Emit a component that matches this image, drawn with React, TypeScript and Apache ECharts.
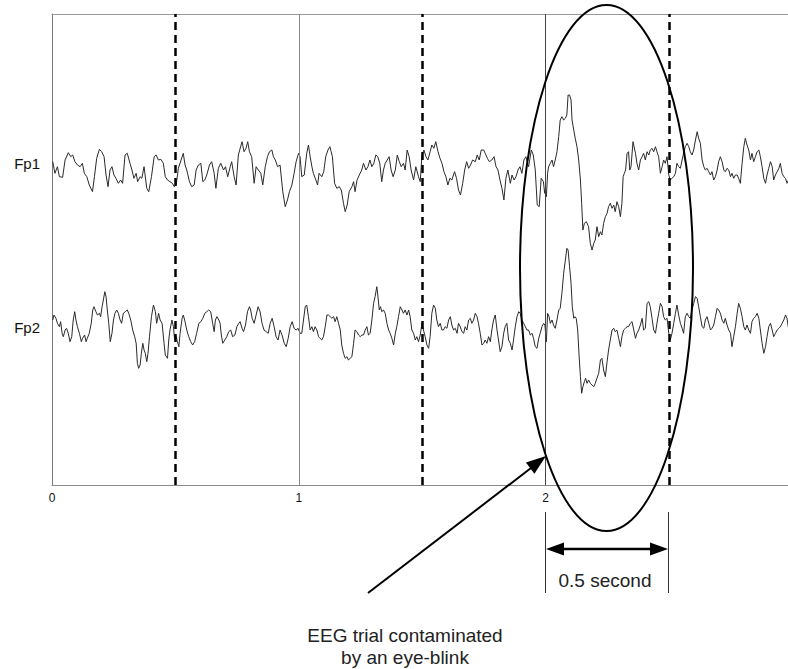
import React, { useEffect, useRef } from "react";
import * as echarts from "echarts";

// ---- data (time in seconds, amplitude in µV-like units relative to channel baseline) ----
const CHANNELS = ["Fp1", "Fp2"];
const CHANNEL_OFFSETS = [322, 158];
const X_TICKS = [0, 1, 2];
const GRID_TIMES = [1, 2];
const EPOCH_MARKS = [0.5, 1.5, 2.5];
const X_MAX = 2.982;
const Y_MAX = 471;

const FP1: number[][] = [
  [0.003,1.3],[0.012,-10.3],[0.022,-3.7],[0.030,-13.7],[0.043,-14.3],[0.053,3],[0.066,10.3],[0.076,6.3],[0.084,8],[0.093,1.3],
  [0.103,-2],[0.114,-3.7],[0.123,-0.3],[0.131,-10.3],[0.141,-13.7],[0.151,-22],[0.164,-28.7],[0.172,-13.7],[0.181,4.7],[0.192,13.7],
  [0.201,11.3],[0.211,6.3],[0.219,-12],[0.227,-23.7],[0.235,-7],[0.243,-3.7],[0.251,-12],[0.259,-15.3],[0.269,-20.3],[0.278,-17],
  [0.286,-20.3],[0.296,8],[0.305,9.7],[0.316,-0.3],[0.324,-7],[0.332,-15.3],[0.341,-10.3],[0.347,-18.7],[0.357,-13.7],[0.364,-15.3],
  [0.373,-3.7],[0.384,-25.3],[0.392,-28.7],[0.403,-13.7],[0.414,6.3],[0.422,8],[0.431,3],[0.441,3.7],[0.451,-0.3],[0.459,-13.7],
  [0.468,-17],[0.478,-18.7],[0.488,-20.3],[0.495,-23.7],[0.503,-22],[0.512,-5.3],[0.523,3],[0.532,9.7],[0.539,-2],[0.546,-7],
  [0.557,-18.7],[0.566,-23.7],[0.576,-22],[0.584,-7],[0.593,-2],[0.603,-0.3],[0.611,-18.7],[0.619,-17],[0.627,-12],[0.638,-2],
  [0.647,1.3],[0.657,-10.3],[0.664,-25.3],[0.674,-5.3],[0.684,-0.3],[0.695,-7],[0.703,-3.7],[0.712,-13.7],[0.722,-3.7],[0.728,1.3],
  [0.738,-13.7],[0.746,-22],[0.755,8],[0.765,17],[0.770,21.3],[0.778,11.3],[0.786,14.7],[0.793,21.3],[0.800,11.3],[0.809,6.3],
  [0.819,-20.3],[0.827,-3.7],[0.836,-7],[0.846,-10.3],[0.854,-22],[0.864,-3.7],[0.873,6.3],[0.881,11.3],[0.891,13],[0.897,6.3],
  [0.905,3],[0.914,-3.7],[0.924,-2],[0.935,-28.7],[0.945,-43.7],[0.954,-37],[0.962,-28.7],[0.972,-22],[0.981,-10.3],[0.989,1.3],
  [0.999,9.7],[1.005,6.3],[1.012,-13.7],[1.022,-12],[1.032,9.7],[1.039,18],[1.046,6.3],[1.053,-3.7],[1.059,-10.3],[1.069,-17],
  [1.076,-22],[1.082,-10.3],[1.093,-13.7],[1.101,-8.7],[1.109,6.3],[1.118,13],[1.126,16.3],[1.131,11.3],[1.136,6.3],[1.145,-20.3],
  [1.154,-25.3],[1.164,-23.7],[1.172,-27],[1.181,-40.3],[1.188,-48.7],[1.196,-42],[1.204,-28.7],[1.215,-23.7],[1.222,-18.7],[1.228,-28.7],
  [1.236,-17],[1.245,-12],[1.255,-7],[1.262,-0.3],[1.272,-7],[1.280,-3.7],[1.288,3],[1.296,-3.7],[1.304,-0.3],[1.312,8],
  [1.320,6.3],[1.328,-0.3],[1.336,-18.7],[1.343,-7],[1.350,-0.3],[1.358,3],[1.366,6.3],[1.374,-7],[1.382,-13.7],[1.391,-7],
  [1.399,8],[1.407,1.3],[1.415,-3.7],[1.424,-0.3],[1.431,-7],[1.439,13],[1.447,6.3],[1.455,-7],[1.465,-17],[1.474,-3.7],
  [1.485,-13.7],[1.492,-18.7],[1.499,8],[1.507,13],[1.515,6.3],[1.523,3],[1.532,11.3],[1.539,18],[1.547,14.7],[1.555,21.3],
  [1.564,11.3],[1.572,4.7],[1.580,-0.3],[1.588,-8.7],[1.596,-13.7],[1.604,-22],[1.612,-15.3],[1.620,-17],[1.631,-8.7],[1.639,-15.3],
  [1.647,-27],[1.655,-32],[1.664,-20.3],[1.672,-7],[1.680,1.3],[1.688,-5.3],[1.696,-2],[1.704,3],[1.715,1.3],[1.723,8],
  [1.731,3],[1.739,13],[1.749,13],[1.755,9.7],[1.764,4.7],[1.772,1.3],[1.782,3],[1.791,6.3],[1.799,-3.7],[1.807,-7],
  [1.815,-17],[1.823,-25.3],[1.831,-37],[1.839,-15.3],[1.847,-7],[1.857,-20.3],[1.864,-12],[1.872,-17],[1.880,-13.7],[1.888,-7],
  [1.896,-3.7],[1.904,-10.3],[1.912,3],[1.920,6.3],[1.931,-3.7],[1.942,13],[1.950,8],[1.958,-7],[1.966,-42],[1.974,-43.7],
  [1.982,-15.3],[1.991,-18.7],[1.996,-30.3],[1.999,-25.3],[2.003,-33.7],[2.008,-10.3],[2.012,-3.7],[2.019,-0.3],[2.026,3],[2.032,-3.7],
  [2.039,3],[2.046,11.3],[2.053,26.3],[2.059,43],[2.066,46.3],[2.073,43],[2.080,44.7],[2.086,48],[2.091,68],[2.097,68],
  [2.103,63],[2.107,43],[2.114,33],[2.120,24.7],[2.127,16.3],[2.134,3],[2.141,-17],[2.146,-40.3],[2.151,-67],[2.157,-60.3],
  [2.165,-58.7],[2.174,-63.7],[2.181,-80.3],[2.188,-87],[2.195,-80.3],[2.201,-77],[2.208,-63.7],[2.215,-73.7],[2.222,-68.7],[2.228,-72],
  [2.235,-60.3],[2.242,-53.7],[2.249,-50.3],[2.255,-43.7],[2.262,-40.3],[2.269,-45.3],[2.276,-42],[2.282,-48.7],[2.289,-38.7],[2.296,-43.7],
  [2.303,-53.7],[2.309,-40.3],[2.314,-13.7],[2.319,-10.3],[2.324,-7],[2.330,9.7],[2.336,11.3],[2.341,-7],[2.346,-3.7],[2.354,21.3],
  [2.364,9.7],[2.370,-0.3],[2.377,-7],[2.384,3],[2.391,6.3],[2.397,9.7],[2.404,3],[2.411,11.3],[2.418,8],[2.424,13],
  [2.431,14.7],[2.438,11.3],[2.445,16.3],[2.451,11.3],[2.458,6.3],[2.465,-10.3],[2.472,-3.7],[2.478,3],[2.485,-0.3],[2.492,6.3],
  [2.499,-12],[2.505,-17],[2.512,-15.3],[2.519,-13.7],[2.526,-10.3],[2.532,-0.3],[2.539,-3.7],[2.546,-5.3],[2.553,3],[2.559,9.7],
  [2.566,16.3],[2.573,19.7],[2.580,16.3],[2.586,11.3],[2.593,8],[2.600,13],[2.607,23],[2.614,31.3],[2.620,24.7],[2.627,19.7],
  [2.634,3],[2.641,-3.7],[2.647,-7],[2.654,-5.3],[2.661,-8.7],[2.668,-12],[2.674,-8.7],[2.681,-17],[2.688,-13.7],[2.695,-7],
  [2.701,1.3],[2.708,6.3],[2.715,1.3],[2.722,-7],[2.728,-8.7],[2.735,-5.3],[2.742,-7],[2.749,-13.7],[2.755,-10.3],[2.762,-15.3],
  [2.769,-12],[2.776,-12],[2.782,-15.3],[2.789,-20.3],[2.796,-0.3],[2.803,16.3],[2.809,24.7],[2.816,18],[2.823,13],[2.830,3],
  [2.836,9.7],[2.843,1.3],[2.850,6.3],[2.857,11.3],[2.864,13],[2.870,6.3],[2.877,-3.7],[2.884,-15.3],[2.891,-20.3],[2.897,-12],
  [2.904,-5.3],[2.911,1.3],[2.918,-3.7],[2.924,-17],[2.931,-12],[2.938,-8.7],[2.945,-5.3],[2.951,-0.3],[2.958,-10.3],[2.965,-13.7],
  [2.972,-15.3],[2.978,-20.3],[2.984,-17],
];

const FP2: number[][] = [
  [0.003,7],[0.008,12],[0.016,8.7],[0.022,3.7],[0.030,0.3],[0.035,5.3],[0.041,-6.3],[0.046,-9.7],[0.053,-3],[0.059,-1.3],
  [0.066,-6.3],[0.073,-14.7],[0.080,-9.7],[0.086,7],[0.092,15.3],[0.097,7],[0.103,0.3],[0.111,-6.3],[0.119,-14.7],[0.124,-11.3],
  [0.132,-8],[0.138,-14.7],[0.143,-11.3],[0.151,-6.3],[0.159,3.7],[0.165,17],[0.170,20.3],[0.178,15.3],[0.184,12],[0.192,13.7],
  [0.197,10.3],[0.203,20.3],[0.208,27],[0.214,35.3],[0.219,30.3],[0.224,17],[0.230,3.7],[0.236,-14.7],[0.243,-6.3],[0.249,7],
  [0.255,13.7],[0.262,17],[0.269,13.7],[0.276,7],[0.282,3.7],[0.289,13.7],[0.297,15.3],[0.305,17],[0.311,13.7],[0.319,7],
  [0.327,-3],[0.335,-9.7],[0.341,-16.3],[0.346,-36.3],[0.351,-41.3],[0.357,-38],[0.362,-26.3],[0.368,-16.3],[0.373,-23],[0.378,-26.3],
  [0.384,-34.7],[0.389,-26.3],[0.395,-9.7],[0.403,10.3],[0.411,22],[0.419,15.3],[0.424,3.7],[0.432,13.7],[0.438,7],[0.446,3.7],
  [0.454,-16.3],[0.459,-28],[0.468,-31.3],[0.473,-13],[0.478,-3],[0.486,7],[0.492,0.3],[0.497,-13],[0.503,-9.7],[0.508,-14.7],
  [0.514,-19.7],[0.519,-6.3],[0.527,8.7],[0.532,12],[0.539,5.3],[0.546,-3],[0.554,-9.7],[0.562,-14.7],[0.570,-18],[0.578,-14.7],
  [0.586,-6.3],[0.595,3.7],[0.603,5.3],[0.611,8.7],[0.619,13.7],[0.627,15.3],[0.635,17],[0.643,15.3],[0.651,3.7],[0.657,-4.7],
  [0.662,7],[0.668,10.3],[0.676,7],[0.681,3.7],[0.686,-8],[0.692,-16.3],[0.700,-13],[0.708,-9.7],[0.716,-4.7],[0.724,-3],
  [0.732,-9.7],[0.741,-8],[0.749,0.3],[0.757,3.7],[0.762,5.3],[0.770,-1.3],[0.776,-4.7],[0.784,2],[0.792,15.3],[0.800,20.3],
  [0.805,17],[0.811,8.7],[0.819,3.7],[0.827,12],[0.835,20.3],[0.843,15.3],[0.851,3.7],[0.859,-3],[0.868,-4.7],[0.876,-6.3],
  [0.884,3.7],[0.892,8.7],[0.900,0.3],[0.908,-9.7],[0.916,-13],[0.924,-3],[0.932,-8],[0.941,-16.3],[0.949,-19.7],[0.957,-11.3],
  [0.965,0.3],[0.973,5.3],[0.981,-1.3],[0.989,-3],[0.997,-1.3],[1.005,-6.3],[1.012,-6.3],[1.019,7],[1.026,20.3],[1.032,22],
  [1.039,10.3],[1.046,-3],[1.053,0.3],[1.059,-4.7],[1.066,0.3],[1.073,-3],[1.080,-9.7],[1.086,-11.3],[1.093,-13],[1.100,-9.7],
  [1.107,0.3],[1.114,12],[1.120,12],[1.127,10.3],[1.134,8.7],[1.141,10.3],[1.147,5.3],[1.154,10.3],[1.161,3.7],[1.168,-3],
  [1.174,-18],[1.181,-26.3],[1.188,-31.3],[1.195,-29.7],[1.201,-33],[1.208,-31.3],[1.215,-29.7],[1.222,-16.3],[1.228,-3],[1.235,-4.7],
  [1.242,-8],[1.249,-9.7],[1.255,-8],[1.262,-8],[1.269,-3],[1.276,0.3],[1.282,-8],[1.289,-6.3],[1.296,7],[1.303,23.7],
  [1.309,30.3],[1.316,40.3],[1.320,32],[1.326,17],[1.331,20.3],[1.336,15.3],[1.343,17],[1.350,13.7],[1.357,3.7],[1.364,-3],
  [1.370,-6.3],[1.377,-11.3],[1.384,-18],[1.391,-6.3],[1.397,0.3],[1.404,10.3],[1.411,20.3],[1.418,17],[1.424,13.7],[1.431,17],
  [1.438,12],[1.445,17],[1.451,10.3],[1.458,-3],[1.465,-6.3],[1.472,-13],[1.478,-9.7],[1.485,-14.7],[1.492,-8],[1.499,3.7],
  [1.505,-3],[1.512,-9.7],[1.519,-18],[1.526,-21.3],[1.532,-9.7],[1.539,13.7],[1.546,22],[1.553,18.7],[1.559,7],[1.566,0.3],
  [1.573,3.7],[1.580,-3],[1.586,-3],[1.593,0.3],[1.600,-1.3],[1.607,7],[1.614,10.3],[1.620,2],[1.627,-3],[1.634,-1.3],
  [1.641,-6.3],[1.647,3.7],[1.654,0.3],[1.661,-4.7],[1.668,-6.3],[1.674,0.3],[1.681,-3],[1.688,7],[1.695,8.7],[1.701,3.7],
  [1.708,7],[1.715,13.7],[1.722,10.3],[1.728,3.7],[1.735,-6.3],[1.742,-18],[1.749,-16.3],[1.755,-13],[1.762,-16.3],[1.769,-9.7],
  [1.776,-14.7],[1.782,-3],[1.789,7],[1.796,12],[1.803,-3],[1.809,-13],[1.816,-24.7],[1.823,-19.7],[1.830,-6.3],[1.836,0.3],
  [1.843,3.7],[1.850,-13],[1.857,-16.3],[1.864,-23],[1.870,-13],[1.877,0.3],[1.884,10.3],[1.891,15.3],[1.897,13.7],[1.904,7],
  [1.911,3.7],[1.918,0.3],[1.924,-3],[1.931,-3],[1.938,-8],[1.945,-6.3],[1.951,-11.3],[1.958,-19.7],[1.965,-21.3],[1.972,-11.3],
  [1.978,-6.3],[1.985,0.3],[1.992,3.7],[1.997,2],[2.003,-14.7],[2.008,13.7],[2.014,10.3],[2.019,3.7],[2.026,7],[2.032,2],
  [2.039,-1.3],[2.046,7],[2.053,17],[2.059,18.7],[2.066,33.7],[2.073,53.7],[2.080,67],[2.086,78.7],[2.091,77],[2.097,60.3],
  [2.103,43.7],[2.108,20.3],[2.114,8.7],[2.119,10.3],[2.124,8.7],[2.130,-3],[2.135,-26.3],[2.141,-49.7],[2.146,-66.3],[2.151,-59.7],
  [2.157,-54.7],[2.162,-51.3],[2.168,-56.3],[2.174,-53],[2.181,-56.3],[2.188,-58],[2.195,-59.7],[2.201,-56.3],[2.208,-51.3],[2.215,-46.3],
  [2.222,-33],[2.228,-31.3],[2.235,-43],[2.242,-49.7],[2.249,-34.7],[2.255,-23],[2.262,-13],[2.269,-3],[2.276,-1.3],[2.282,-4.7],
  [2.289,-3],[2.296,-11.3],[2.303,-19.7],[2.309,-9.7],[2.316,-3],[2.323,-1.3],[2.330,0.3],[2.336,0.3],[2.343,3.7],[2.350,5.3],
  [2.357,-3],[2.364,-11.3],[2.370,-6.3],[2.377,-3],[2.384,2],[2.391,8.7],[2.397,-3],[2.404,-1.3],[2.411,23.7],[2.418,25.3],
  [2.424,20.3],[2.431,8.7],[2.438,-3],[2.445,-6.3],[2.451,3.7],[2.458,13.7],[2.465,23.7],[2.472,20.3],[2.478,10.3],[2.485,7],
  [2.492,8.7],[2.499,-6.3],[2.505,-13],[2.512,-6.3],[2.519,3.7],[2.526,13.7],[2.532,22],[2.539,12],[2.546,3.7],[2.553,-1.3],
  [2.559,-6.3],[2.566,10.3],[2.573,13.7],[2.580,10.3],[2.586,8.7],[2.593,17],[2.600,23.7],[2.607,30.3],[2.614,28.7],[2.620,20.3],
  [2.627,10.3],[2.634,0.3],[2.641,-1.3],[2.647,7],[2.654,10.3],[2.661,3.7],[2.668,-3],[2.674,-1.3],[2.681,2],[2.688,10.3],
  [2.695,18.7],[2.701,17],[2.708,13.7],[2.715,7],[2.722,3.7],[2.728,8.7],[2.735,2],[2.742,-3],[2.749,-6.3],[2.755,-19.7],
  [2.762,-9.7],[2.769,0.3],[2.776,13.7],[2.782,23.7],[2.789,18.7],[2.796,10.3],[2.803,0.3],[2.809,-3],[2.816,2],[2.823,-3],
  [2.830,-6.3],[2.836,5.3],[2.843,8.7],[2.850,10.3],[2.857,13.7],[2.864,8.7],[2.870,-3],[2.877,-16.3],[2.884,-26.3],[2.891,-19.7],
  [2.897,-9.7],[2.904,0.3],[2.911,3.7],[2.918,-3],[2.924,-9.7],[2.931,-6.3],[2.938,-3],[2.945,-1.3],[2.951,0.3],[2.958,3.7],
  [2.965,7],[2.972,12],[2.978,8.7],[2.984,-1.3],
];

const TRACES = [FP1, FP2];
const SCALE_LABEL = "0.5 second";
const CAPTION = ["EEG trial contaminated", "by an eye-blink"];

const FONT = '"Liberation Sans", Arial, Helvetica, sans-serif';

export default function App() {
  const ref = useRef<HTMLDivElement>(null);

  useEffect(() => {
    document.body.style.margin = "0";
    const chart = echarts.init(ref.current!, null, { renderer: "svg" });

    const series: any[] = TRACES.map((trace, i) => ({
      name: CHANNELS[i],
      type: "line",
      data: trace.map(([t, v]) => [t, v + CHANNEL_OFFSETS[i]]),
      showSymbol: false,
      symbol: "none",
      lineStyle: { color: "#2a2a2a", width: 1 },
      z: 3,
    }));

    series.push({
      type: "line",
      data: [],
      markLine: {
        silent: true,
        symbol: "none",
        label: { show: false },
        data: [
          ...GRID_TIMES.map((t, i) => ({
            xAxis: t,
            lineStyle: { color: i === 0 ? "#8a8a8a" : "#444", width: 1, type: "solid" },
          })),
          ...EPOCH_MARKS.map((t) => ({
            xAxis: t,
            lineStyle: { color: "#000", width: 2.5, type: [8, 5] },
          })),
        ],
      },
      z: 2,
    });

    const option: any = {
      animation: false,
      backgroundColor: "#fff",
      grid: { left: 52, right: 0, top: 14, bottom: 184, containLabel: false },
      xAxis: [
        {
          type: "value",
          min: 0,
          max: X_MAX,
          interval: 1,
          axisLine: { show: true, lineStyle: { color: "#8a8a8a", width: 1 } },
          axisTick: { show: false },
          splitLine: { show: false },
          axisLabel: {
            customValues: X_TICKS,
            color: "#111",
            fontSize: 12,
            fontFamily: FONT,
            margin: 7,
          },
        },
        {
          type: "value",
          position: "top",
          min: 0,
          max: X_MAX,
          axisLine: { show: true, onZero: false, lineStyle: { color: "#9a9a9a", width: 1 } },
          axisTick: { show: false },
          splitLine: { show: false },
          axisLabel: { show: false },
        },
      ],
      yAxis: {
        type: "value",
        min: 0,
        max: Y_MAX,
        axisLine: { show: true, lineStyle: { color: "#777", width: 1 } },
        axisTick: { show: false },
        splitLine: { show: false },
        axisLabel: {
          customValues: CHANNEL_OFFSETS,
          formatter: (v: number) => CHANNELS[CHANNEL_OFFSETS.indexOf(v)] ?? "",
          color: "#111",
          fontSize: 15,
          fontFamily: FONT,
          margin: 12,
        },
      },
      series,
      graphic: [
        {
          type: "ellipse",
          shape: { cx: 606.5, cy: 268, rx: 86.5, ry: 263 },
          style: { fill: "none", stroke: "#000", lineWidth: 2 },
          z: 100,
          silent: true,
        },
        // arrow pointing at the blink onset
        {
          type: "line",
          shape: { x1: 368, y1: 593, x2: 531, y2: 468 },
          style: { stroke: "#000", lineWidth: 2 },
          z: 100,
        },
        {
          type: "polygon",
          shape: { points: [[546, 456], [534.4, 473.8], [525.9, 462.6]] },
          style: { fill: "#000" },
          z: 100,
        },
        // scale bar
        {
          type: "line",
          shape: { x1: 545.5, y1: 512, x2: 545.5, y2: 593 },
          style: { stroke: "#333", lineWidth: 1 },
          z: 100,
        },
        {
          type: "line",
          shape: { x1: 668.5, y1: 512, x2: 668.5, y2: 593 },
          style: { stroke: "#333", lineWidth: 1 },
          z: 100,
        },
        {
          type: "line",
          shape: { x1: 560, y1: 549, x2: 654, y2: 549 },
          style: { stroke: "#000", lineWidth: 2.5 },
          z: 100,
        },
        {
          type: "polygon",
          shape: { points: [[546, 549], [564, 542.5], [564, 555.5]] },
          style: { fill: "#000" },
          z: 100,
        },
        {
          type: "polygon",
          shape: { points: [[668, 549], [650, 542.5], [650, 555.5]] },
          style: { fill: "#000" },
          z: 100,
        },
        {
          type: "text",
          x: 605,
          y: 580,
          style: {
            text: SCALE_LABEL,
            fill: "#222",
            font: `19px ${FONT}`,
            align: "center",
            verticalAlign: "middle",
          },
          z: 100,
        },
        {
          type: "text",
          x: 405,
          y: 635,
          style: {
            text: CAPTION[0],
            fill: "#222",
            font: `19px ${FONT}`,
            align: "center",
            verticalAlign: "middle",
          },
          z: 100,
        },
        {
          type: "text",
          x: 405,
          y: 657,
          style: {
            text: CAPTION[1],
            fill: "#222",
            font: `19px ${FONT}`,
            align: "center",
            verticalAlign: "middle",
          },
          z: 100,
        },
      ],
    };

    chart.setOption(option);
    return () => chart.dispose();
  }, []);

  return <div ref={ref} style={{ width: 788, height: 669 }} />;
}
